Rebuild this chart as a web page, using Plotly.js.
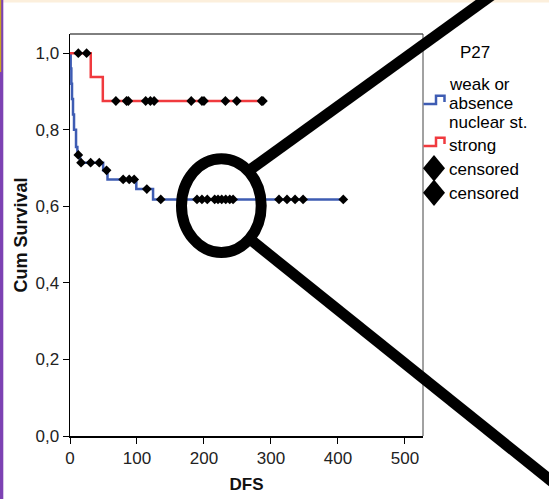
<!DOCTYPE html>
<html>
<head>
<meta charset="utf-8">
<script src="https://cdn.plot.ly/plotly-3.0.1.min.js"></script>
<style>
  html, body { margin: 0; padding: 0; background: #ffffff; }
  #chart { width: 549px; height: 499px; }
</style>
</head>
<body>
<div id="chart"></div>
<script>
// ---------------- data ----------------
// group "weak or absence nuclear st." (blue): event times and survival after each event
var blueEventT = [0, 1, 2, 3, 4.5, 6, 9, 11, 15, 49.5, 56, 99, 124];
var blueEventS = [1.0, 0.96, 0.92, 0.88, 0.84, 0.80, 0.755, 0.734, 0.714, 0.694, 0.670, 0.645, 0.618];
var blueCensorT = [12.4, 16.5, 30.8, 43.7, 54.6, 79.4, 88.4, 95.8, 114.7, 135.5,
                   189.6, 197, 205, 216, 221, 226.5, 232.5, 238.5, 243.5,
                   312, 324, 336, 348, 408];

// group "strong" (red)
var redEventT = [0, 31, 49];
var redEventS = [1.0, 0.9375, 0.875];
var redCensorT = [12.4, 24.8, 68.5, 84.4, 87, 113, 120, 125.6, 181, 197, 200, 232, 249, 286, 288];

var groupNames = ["weak or absence nuclear st.", "strong"];
var censoredName = "censored";
var legendTitle = "P27";
var xTickVals = [0, 100, 200, 300, 400, 500];
var yTickVals = [0, 0.2, 0.4, 0.6, 0.8, 1.0];
var xTitle = "DFS";
var yTitle = "Cum Survival";

// ---------------- helpers ----------------
function survAt(ts, ss, t) {
  var s = ss[0];
  for (var i = 0; i < ts.length; i++) { if (ts[i] <= t) s = ss[i]; }
  return s;
}
function stepLine(ts, ss, tEnd) {
  var x = ts.slice(), y = ss.slice();
  x.push(tEnd); y.push(ss[ss.length - 1]);
  return {x: x, y: y};
}
var blueEnd = Math.max.apply(null, blueCensorT);
var redEnd = Math.max.apply(null, redCensorT);
var blueLine = stepLine(blueEventT, blueEventS, blueEnd);
var redLine = stepLine(redEventT, redEventS, redEnd);

var BLUE = "#3e5cb3", RED = "#f03a3e";

var traces = [
  {x: blueLine.x, y: blueLine.y, type: "scatter", mode: "lines", name: groupNames[0],
   line: {shape: "hv", color: BLUE, width: 2.5}, showlegend: false, hoverinfo: "x+y"},
  {x: redLine.x, y: redLine.y, type: "scatter", mode: "lines", name: groupNames[1],
   line: {shape: "hv", color: RED, width: 2.5}, showlegend: false, hoverinfo: "x+y"},
  {x: blueCensorT, y: blueCensorT.map(function (t) { return survAt(blueEventT, blueEventS, t); }),
   type: "scatter", mode: "markers", name: censoredName, showlegend: false,
   marker: {symbol: "diamond", size: 7.5, color: "#000000"}},
  {x: redCensorT, y: redCensorT.map(function (t) { return survAt(redEventT, redEventS, t); }),
   type: "scatter", mode: "markers", name: censoredName, showlegend: false,
   marker: {symbol: "diamond", size: 7.5, color: "#000000"}}
];

// pixel -> paper conversion for decorations (plot box: left 70, right 423, top 34, bottom 436)
var L = 70, R = 423, T = 34, B = 436;
function px(x) { return (x - L) / (R - L); }
function py(y) { return (B - y) / (B - T); }

var FONT = "Liberation Sans, Arial, Helvetica, sans-serif";

var shapes = [
  // top and right frame of the plot box
  {type: "line", xref: "paper", yref: "paper", x0: 0, x1: 1, y0: 1, y1: 1, line: {color: "#000", width: 1}},
  {type: "line", xref: "paper", yref: "paper", x0: 1, x1: 1, y0: 0, y1: 1, line: {color: "#444", width: 1}},
  // page decoration: cream band on top, purple rule on the left
  {type: "rect", xref: "paper", yref: "paper", x0: px(3), x1: px(549), y0: py(0), y1: py(2.5),
   line: {width: 0}, fillcolor: "#fcefdc"},
  {type: "rect", xref: "paper", yref: "paper", x0: px(0), x1: px(3.3), y0: py(0), y1: py(499),
   line: {width: 0}, fillcolor: "#7d42b3"},
  {type: "rect", xref: "paper", yref: "paper", x0: px(0), x1: px(1.2), y0: py(0), y1: py(72),
   line: {width: 0}, fillcolor: "#c9a227"},
  // magnifying glass overlay
  {type: "circle", xref: "paper", yref: "paper", x0: px(181.5), x1: px(261.2), y0: py(158.8), y1: py(252.5),
   line: {color: "#000", width: 11}},
  {type: "line", xref: "paper", yref: "paper", x0: px(247), y0: py(172), x1: px(492), y1: py(-5),
   line: {color: "#000", width: 11}},
  {type: "line", xref: "paper", yref: "paper", x0: px(246), y0: py(236), x1: px(560), y1: py(488),
   line: {color: "#000", width: 11}},
  // legend icons: step symbols
  {type: "path", xref: "paper", yref: "paper",
   path: "M " + px(423.5) + "," + py(104) + " L " + px(436) + "," + py(104) + " L " + px(436) + "," + py(95.7) +
         " L " + px(444.5) + "," + py(95.7) + " L " + px(444.5) + "," + py(102),
   line: {color: BLUE, width: 2.5}},
  {type: "path", xref: "paper", yref: "paper",
   path: "M " + px(423.5) + "," + py(146) + " L " + px(436) + "," + py(146) + " L " + px(436) + "," + py(137.7) +
         " L " + px(444.5) + "," + py(137.7) + " L " + px(444.5) + "," + py(144),
   line: {color: RED, width: 2.5}},
  // legend icons: censored diamonds
  {type: "path", xref: "paper", yref: "paper",
   path: "M " + px(434) + "," + py(155) + " L " + px(445) + "," + py(168.3) + " L " + px(434) + "," + py(181.6) +
         " L " + px(423) + "," + py(168.3) + " Z",
   line: {width: 0}, fillcolor: "#000"},
  {type: "path", xref: "paper", yref: "paper",
   path: "M " + px(434) + "," + py(179.4) + " L " + px(445) + "," + py(192.7) + " L " + px(434) + "," + py(206) +
         " L " + px(423) + "," + py(192.7) + " Z",
   line: {width: 0}, fillcolor: "#000"}
];

function legText(text, x, y, anchor) {
  return {text: text, xref: "paper", yref: "paper", x: px(x), y: py(y), xanchor: anchor || "left",
          yanchor: "middle", showarrow: false, font: {family: FONT, size: 17, color: "#000"}};
}
var annotations = [
  legText(legendTitle, 475, 52, "center"),
  legText("weak or", 447, 84),
  legText("absence", 447, 103),
  legText("nuclear st.", 447, 122),
  legText(groupNames[1], 447, 145),
  legText(censoredName, 447, 169),
  legText(censoredName, 447, 193)
];

var layout = {
  width: 549, height: 499, autosize: false,
  margin: {l: L, r: 549 - R, t: T, b: 499 - B, pad: 0},
  paper_bgcolor: "#ffffff", plot_bgcolor: "#ffffff",
  separators: ",.",
  showlegend: false,
  font: {family: FONT, size: 17, color: "#222"},
  xaxis: {
    range: [0, 527], tickvals: xTickVals, ticks: "outside", ticklen: 6, tickwidth: 1, tickcolor: "#000",
    showline: true, linecolor: "#000", linewidth: 1.5, showgrid: false, zeroline: false,
    tickfont: {family: FONT, size: 17, color: "#222"},
    title: {text: "<b>" + xTitle + "</b>", font: {family: FONT, size: 17, color: "#111"}, standoff: 11}
  },
  yaxis: {
    range: [0, 1.05], tickvals: yTickVals, tickformat: ".1f", ticks: "outside", ticklen: 6, tickwidth: 1,
    tickcolor: "#000", showline: true, linecolor: "#000", linewidth: 1.5, showgrid: false, zeroline: false,
    tickfont: {family: FONT, size: 17, color: "#222"},
    title: {text: "<b>" + yTitle + "</b>", font: {family: FONT, size: 18, color: "#111"}, standoff: 3}
  },
  shapes: shapes,
  annotations: annotations
};

Plotly.newPlot("chart", traces, layout, {displayModeBar: false, staticPlot: true});
</script>
</body>
</html>
